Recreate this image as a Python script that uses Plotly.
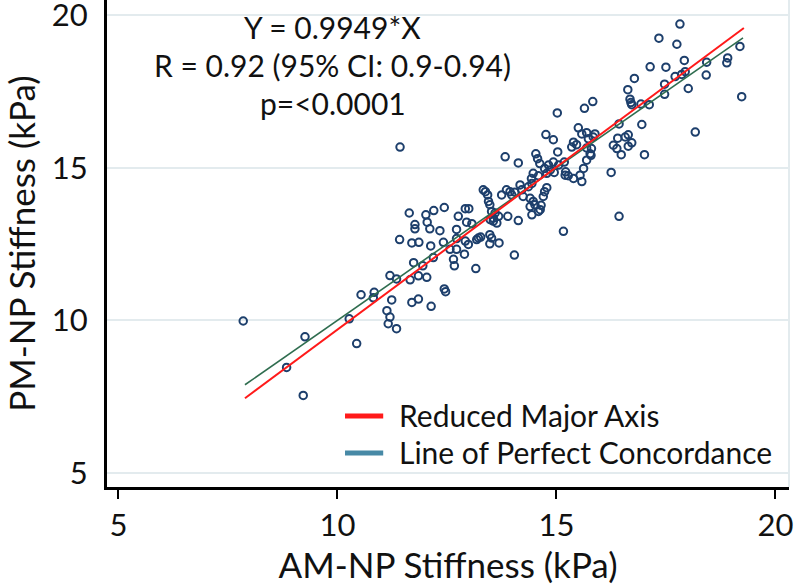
import plotly.graph_objects as go

# AM-NP (x) vs PM-NP (y) stiffness, kPa
am_np = [7.85, 9.26, 8.84, 9.22, 10.27, 10.44, 10.54, 10.84, 10.82, 11.20, 11.24, 11.13, 11.20, 11.16, 11.35,
         11.43, 11.64, 11.77, 11.77, 12.02, 12.05, 12.20, 12.44, 12.11, 12.34, 12.76, 12.92, 13.00, 12.95, 13.07,
         12.72, 11.42, 11.70, 11.86, 12.13, 12.42, 12.72, 12.92, 12.99, 13.18, 12.57, 12.72, 12.90, 12.65, 12.67,
         13.16, 12.19, 11.95, 11.74, 11.85, 12.04, 11.66, 11.35, 11.70, 11.85, 12.14, 12.44, 12.47,
         15.02, 15.64, 14.76, 14.93, 13.83, 14.13, 14.53, 14.57, 15.03, 14.62, 14.82, 14.93, 15.05, 14.73, 14.47,
         14.43, 14.59, 14.78, 14.86, 14.95, 15.18, 15.21, 15.27, 15.39, 15.20, 15.54, 15.58, 15.62, 15.69, 15.77,
         15.80, 15.69, 15.50, 15.58, 15.69, 15.39, 15.46, 15.35, 15.73, 15.84, 15.88, 13.33, 13.38, 13.43, 13.45,
         13.48, 13.75, 13.86, 13.94, 13.98, 14.05, 14.17, 14.21, 14.36, 14.44, 14.24, 14.40, 14.47, 14.40, 14.51,
         14.44, 14.63, 14.59, 14.65, 14.70, 14.73, 14.78, 15.16, 14.04, 14.13, 13.89, 13.52, 13.60, 13.56, 13.68,
         13.49, 13.64, 13.56, 13.48, 13.52, 13.69, 13.48, 13.22, 13.27,
         17.14, 17.50, 17.92, 16.78, 17.71, 17.86, 17.94, 16.63, 17.47, 18.01, 18.42, 18.43, 15.83, 16.68, 16.70,
         16.72, 16.93, 17.12, 17.47, 16.95, 16.43, 18.17, 16.40, 16.57, 16.64, 16.30, 16.38, 16.72, 16.64, 16.48,
         17.01, 15.79, 16.25, 16.43,
         19.19, 19.23, 18.91, 18.89, 17.82, 17.34, 17.75]
pm_np = [9.98, 9.46, 8.46, 7.54, 10.05, 9.24, 10.84, 10.92, 10.74, 11.47, 10.67, 10.32, 10.11, 9.89, 9.73,
         15.68, 13.52, 13.14, 13.00, 13.46, 13.22, 13.60, 13.70, 13.00, 12.94, 13.41, 13.66, 13.66, 13.22, 13.17,
         12.98, 12.65, 12.54, 12.56, 12.44, 12.56, 12.68, 12.60, 12.49, 12.65, 12.33, 12.33, 12.17, 12.00, 11.79,
         11.70, 12.06, 11.79, 11.89, 11.46, 11.41, 11.33, 11.36, 10.59, 10.70, 10.46, 11.03, 10.94,
         16.80, 16.95, 16.09, 15.92, 15.36, 15.16, 15.46, 15.30, 15.52, 15.14, 15.09, 15.19, 15.09, 14.98, 14.82,
         14.65, 14.74, 14.82, 14.93, 14.85, 15.19, 14.87, 14.74, 14.65, 14.76, 14.76, 14.55, 14.98, 15.25, 15.46,
         15.63, 15.65, 16.31, 16.11, 16.15, 15.84, 15.76, 15.68, 15.95, 16.01, 16.11, 14.28, 14.22, 14.11, 13.90,
         13.79, 14.11, 14.28, 14.22, 14.11, 14.20, 14.44, 14.28, 14.38, 14.49, 14.06, 14.00, 13.90, 13.73, 13.79,
         13.46, 13.63, 13.57, 13.77, 14.06, 14.22, 14.35, 12.92, 12.14, 13.27, 13.41, 13.57, 13.52, 13.35, 13.41,
         13.30, 13.19, 13.25, 12.81, 12.70, 12.54, 12.51, 12.70, 12.73,
         18.31, 18.30, 18.52, 17.93, 17.99, 18.06, 18.15, 17.56, 17.74, 17.60, 18.04, 18.46, 17.17, 17.25, 17.14,
         17.07, 17.09, 17.07, 17.41, 16.42, 16.44, 16.17, 15.97, 16.01, 16.08, 15.74, 15.63, 15.82, 15.71, 15.43,
         15.43, 15.41, 14.85, 13.41,
         18.98, 17.33, 18.60, 18.44, 19.71, 19.25, 19.05]

rma_x = [7.89, 19.28]
rma_y = [7.45, 19.58]
conc_x = [7.89, 19.26]
conc_y = [7.89, 19.26]

x_ticks = [5, 10, 15, 20]
y_ticks = [5, 10, 15, 20]

stats_lines = ["Y = 0.9949*X", "R = 0.92 (95% CI: 0.9-0.94)", "p=<0.0001"]
legend_names = ["Reduced Major Axis", "Line of Perfect Concordance"]
legend_colors = ["#ff1a1a", "#4789a6"]

FONT = "Lato"
GRID = "#e3ebee"

fig = go.Figure()
fig.add_trace(go.Scatter(x=am_np, y=pm_np, mode="markers", showlegend=False,
                         marker=dict(symbol="circle-open", size=7.5, color="#1d3f6c",
                                     line=dict(width=2, color="#1d3f6c"))))
fig.add_trace(go.Scatter(x=conc_x, y=conc_y, mode="lines", showlegend=False,
                         line=dict(color="#2f6d4f", width=1.6)))
fig.add_trace(go.Scatter(x=rma_x, y=rma_y, mode="lines", showlegend=False,
                         line=dict(color="#ff1a1a", width=2)))

# statistics text
ys = [0.945, 0.867, 0.789]
for t, yy in zip(stats_lines, ys):
    fig.add_annotation(text=t, x=0.331, y=yy, xref="paper", yref="paper",
                       showarrow=False, xanchor="center", yanchor="middle",
                       font=dict(family=FONT, size=30, color="#111111"))

# legend (manual)
leg_sw_y = [0.1458, 0.0698]
leg_tx_y = [0.1478, 0.0719]
for name, col, sy, ty in zip(legend_names, legend_colors, leg_sw_y, leg_tx_y):
    fig.add_shape(type="line", xref="paper", yref="paper", x0=0.349, x1=0.405, y0=sy, y1=sy,
                  line=dict(color=col, width=5))
    fig.add_annotation(text=name, x=0.425, y=ty, xref="paper", yref="paper",
                       showarrow=False, xanchor="left", yanchor="middle",
                       font=dict(family=FONT, size=30, color="#111111"))

fig.add_shape(type="line", xref="paper", yref="paper", x0=1, x1=1, y0=0, y1=1,
              line=dict(color=GRID, width=2))

fig.update_layout(
    width=796, height=586,
    margin=dict(l=107, r=7, t=0, b=99),
    paper_bgcolor="white", plot_bgcolor="white",
    font=dict(family=FONT, color="#111111"),
    showlegend=False,
    xaxis=dict(range=[4.74, 20.31], tickvals=x_ticks, showgrid=False, zeroline=False,
               showline=True, linecolor="black", linewidth=3, automargin=False,
               ticks="outside", ticklen=9, tickwidth=2, tickcolor="black",
               tickfont=dict(family=FONT, size=31), ticklabeloverflow="allow",
               title=dict(text="AM-NP Stiffness (kPa)", font=dict(family=FONT, size=35), standoff=0)),
    yaxis=dict(range=[4.54, 20.5], tickvals=y_ticks, showgrid=True, gridcolor=GRID, gridwidth=2,
               zeroline=False, showline=True, linecolor="black", linewidth=3, ticks="", automargin=False,
               tickfont=dict(family=FONT, size=31), ticklabelstandoff=10, ticklabeloverflow="allow",
               title=dict(text="PM-NP Stiffness (kPa)", font=dict(family=FONT, size=35), standoff=10)),
)

fig.write_html("out.html", config={"displayModeBar": False},
               post_script="document.body.style.margin='0';document.body.style.padding='0';")
